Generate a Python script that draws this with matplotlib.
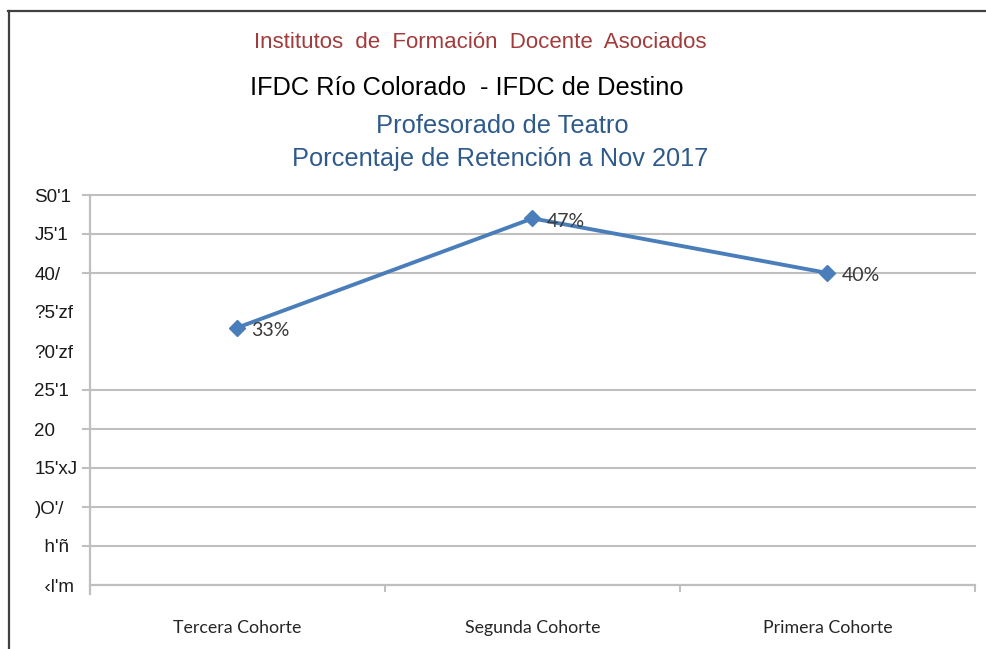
import matplotlib
matplotlib.use("Agg")
import matplotlib.pyplot as plt
from matplotlib.lines import Line2D

# data
cohorts = ["Tercera Cohorte", "Segunda Cohorte", "Primera Cohorte"]
retention = [0.33, 0.47, 0.40]
point_labels = ["33%", "47%", "40%"]

y_ticks = [0.0, 0.05, 0.10, 0.15, 0.20, 0.25, 0.30, 0.35, 0.40, 0.45, 0.50]
y_tick_labels = ["  ‹l'm", "  h'ñ", ")O'/", "15'xJ", "20", "25'1",
                 "?0'zf", "?5'zf", "40/", "J5'1", "S0'1"]
# gridlines that are visible in the picture (30% and 35% are missing)
grid_values = [0.05, 0.10, 0.15, 0.20, 0.25, 0.40, 0.45, 0.50]

LINE_BLUE = "#4a7ebb"
GRID_GRAY = "#bfbfbf"
TITLE_BLUE = "#2e5a8c"
TITLE_RED = "#a23b3b"

plt.rcParams["font.family"] = ["Liberation Sans", "DejaVu Sans"]

fig = plt.figure(figsize=(9.87, 6.49), dpi=100)
ax = fig.add_axes([90 / 987, 1 - 585 / 649, 885 / 987, 390 / 649])

x = list(range(len(cohorts)))
ax.plot(x, retention, color=LINE_BLUE, lw=2.8, marker="D", ms=8.5,
        mec=LINE_BLUE, mfc=LINE_BLUE, zorder=3)
for xi, yi, lab in zip(x, retention, point_labels):
    ax.annotate(lab, (xi, yi), xytext=(10, -2), textcoords="offset points",
                ha="left", va="center", fontsize=14, color="#3a3a3a",
                family=["Lato", "DejaVu Sans"])

for g in grid_values:
    ax.axhline(g, xmin=-0.008, xmax=1, color=GRID_GRAY, lw=1.5,
               clip_on=False, zorder=1)

ax.set_xlim(-0.5, len(cohorts) - 0.5)
ax.set_ylim(0, 0.5)

ax.set_xticks(x)
ax.set_xticklabels(cohorts, fontsize=12.8, color="#262626",
                   family=["Lato", "DejaVu Sans"])
ax.set_xticks([i - 0.5 for i in range(len(cohorts) + 1)], minor=True)
ax.tick_params(axis="x", which="major", length=0, pad=25)
ax.tick_params(axis="x", which="minor", length=5, width=1.4,
               color=GRID_GRAY, direction="out")

ax.set_yticks(y_ticks)
ax.set_yticklabels(y_tick_labels, fontsize=13.5, color="#1a1a1a", ha="left")
ax.tick_params(axis="y", length=0, pad=40)

for side in ["top", "right"]:
    ax.spines[side].set_visible(False)
ax.spines["left"].set_color(GRID_GRAY)
ax.spines["left"].set_linewidth(1.6)
ax.spines["left"].set_bounds(-0.012, 0.5)
ax.spines["bottom"].set_color(GRID_GRAY)
ax.spines["bottom"].set_linewidth(1.6)

# titles
fig.text(480 / 987, 1 - 42 / 649, "Institutos  de  Formación  Docente  Asociados",
         ha="center", va="center", fontsize=16, color=TITLE_RED)
fig.text(467 / 987, 1 - 88 / 649, "IFDC Río Colorado  - IFDC de Destino",
         ha="center", va="center", fontsize=18.3, color="black")
fig.text(502 / 987, 1 - 126 / 649, "Profesorado de Teatro",
         ha="center", va="center", fontsize=18.4, color=TITLE_BLUE)
fig.text(500 / 987, 1 - 159 / 649, "Porcentaje de Retención a Nov 2017",
         ha="center", va="center", fontsize=18.3, color=TITLE_BLUE)

# frame of the scanned page
fig.add_artist(Line2D([8 / 987, 1], [1 - 11 / 649, 1 - 11 / 649],
                      color="#404040", lw=1.6))
fig.add_artist(Line2D([9 / 987, 9 / 987], [0, 1 - 11 / 649],
                      color="#404040", lw=1.6))

fig.savefig("out.png", dpi=100)
